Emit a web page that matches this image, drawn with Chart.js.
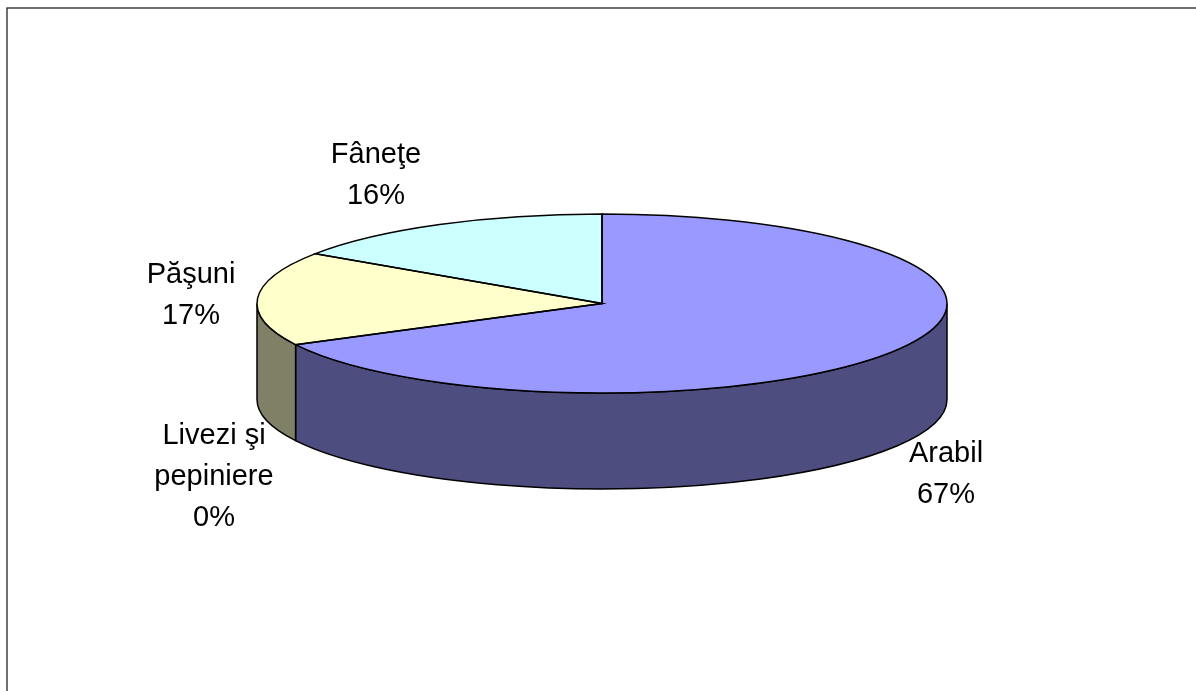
<!DOCTYPE html>
<html>
<head>
<meta charset="utf-8">
<title>Fond funciar</title>
<script src="https://cdn.jsdelivr.net/npm/chart.js@4"></script>
<style>
html, body { margin: 0; padding: 0; background: #fff; overflow: hidden; }
canvas { display: block; }
</style>
</head>
<body>
<canvas id="pieChart" width="1196" height="691"></canvas>
<script>
const categories = ['Arabil', 'Livezi şi pepiniere', 'Păşuni', 'Fâneţe'];
const shares = [67.4, 0, 17, 15.6];
const topColors = ['#9999ff', '#993366', '#ffffcc', '#ccffff'];
const sideColors = ['#4d4d80', '#4d1a33', '#808066', '#668080'];

// how the round pie is laid over: squash factor, where the centre goes, wall height
const squash = 89.5 / 345;
const centerY = 303.5;
const depth = 96;

// label lines (the percent line is added from shares) and their baselines
const labelNames = [['Arabil'], ['Livezi şi', 'pepiniere'], ['Păşuni'], ['Fâneţe']];
const labelX = [946, 214, 191, 376];
const labelY = [462, 444, 283, 163];
const lineHeight = 41;

function tilt(ctx, arc) {
    ctx.translate(arc.x, centerY);
    ctx.scale(1, squash);
    ctx.translate(-arc.x, -arc.y);
}

function sidePath(ctx, arc, a0, a1) {
    let x = arc.x, r = arc.outerRadius;
    let y0 = centerY, y1 = centerY + depth;
    ctx.beginPath();
    ctx.moveTo(x + r * Math.cos(a0), y0 + r * squash * Math.sin(a0));
    ctx.ellipse(x, y0, r, r * squash, 0, a0, a1);
    ctx.lineTo(x + r * Math.cos(a1), y1 + r * squash * Math.sin(a1));
    ctx.ellipse(x, y1, r, r * squash, 0, a1, a0, true);
    ctx.closePath();
}

const pie3d = {
    id: 'pie3d',
    beforeDatasetsDraw(chart) {
        let ctx = chart.ctx;
        let arcs = chart.getDatasetMeta(0).data;
        // the walls, only the part that faces the viewer
        arcs.forEach((arc, i) => {
            let a0 = Math.max(arc.startAngle, 0);
            let a1 = Math.min(arc.endAngle, Math.PI);
            if (a1 <= a0) return;
            ctx.save();
            sidePath(ctx, arc, a0, a1);
            ctx.fillStyle = sideColors[i];
            ctx.fill();
            ctx.lineWidth = 1.5;
            ctx.strokeStyle = '#000';
            ctx.stroke();
            ctx.restore();
        });
        ctx.save();
        tilt(ctx, arcs[0]);
    },
    afterDatasetsDraw(chart) {
        let ctx = chart.ctx;
        ctx.restore();
        let arcs = chart.getDatasetMeta(0).data;
        // outline after the tilt, so the pen keeps its width all round
        arcs.forEach(arc => {
            if (arc.endAngle - arc.startAngle <= 0) return;
            ctx.save();
            tilt(ctx, arc);
            ctx.beginPath();
            ctx.moveTo(arc.x, arc.y);
            ctx.arc(arc.x, arc.y, arc.outerRadius, arc.startAngle, arc.endAngle);
            ctx.closePath();
            ctx.restore();
            ctx.lineWidth = 1.5;
            ctx.strokeStyle = '#000';
            ctx.stroke();
        });
        // labels
        ctx.save();
        ctx.fillStyle = '#000';
        ctx.font = '29px "Liberation Sans", Arial, sans-serif';
        ctx.textAlign = 'center';
        ctx.textBaseline = 'alphabetic';
        labelNames.forEach((names, i) => {
            let lines = names.concat(Math.round(shares[i]) + '%');
            lines.forEach((line, j) => {
                ctx.fillText(line, labelX[i], labelY[i] + j * lineHeight);
            });
        });
        ctx.restore();
    },
    afterDraw(chart) {
        let ctx = chart.ctx;
        ctx.save();
        ctx.strokeStyle = '#111';
        ctx.lineWidth = 1.2;
        ctx.strokeRect(7, 8, 1300, 900);
        ctx.restore();
    }
};

let ctx = document.getElementById('pieChart').getContext('2d');
let chart = new Chart(ctx, {
    type: 'pie',
    data: {
        labels: categories,
        datasets: [{
            data: shares,
            backgroundColor: topColors,
            borderWidth: 0
        }]
    },
    options: {
        responsive: false,
        animation: false,
        layout: { padding: { left: 8, top: 1 } },
        plugins: {
            legend: { display: false },
            tooltip: { enabled: false },
            title: { display: false }
        }
    },
    plugins: [pie3d]
});
</script>
</body>
</html>
